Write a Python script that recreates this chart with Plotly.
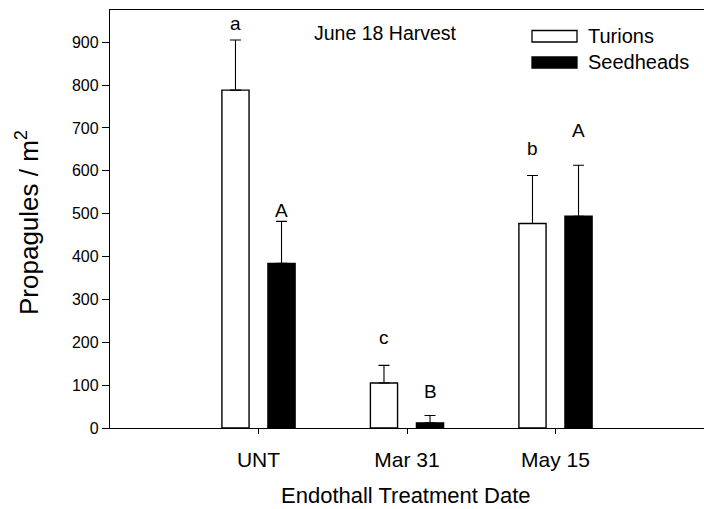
import plotly.graph_objects as go

categories = ["UNT", "Mar 31", "May 15"]
turions = [788, 105, 477]
turions_err = [117, 41, 112]
seedheads = [384, 12, 494]
seedheads_err = [98, 17, 119]
turion_letters = ["a", "c", "b"]
turion_letter_y = [943, 210, 652]
seed_letters = ["A", "B", "A"]
seed_letter_y = [508, 85, 694]
y_ticks = [0, 100, 200, 300, 400, 500, 600, 700, 800, 900]

FONT = "Liberation Sans, Arial, sans-serif"
W, H = 704, 509
L, R, T, B = 110, 0, 10, 81
PW, PH = W - L - R, H - T - B

def px(x):
    return (x - L) / PW

def py(y):
    return (H - B - y) / PH

fig = go.Figure()
fig.add_trace(go.Bar(
    x=categories, y=turions, name="Turions",
    marker=dict(color="white", line=dict(color="black", width=1.4)),
    error_y=dict(type="data", array=turions_err, arrayminus=[0] * 3, symmetric=False,
                 color="black", thickness=1.1, width=5.5),
))
fig.add_trace(go.Bar(
    x=categories, y=seedheads, name="Seedheads",
    marker=dict(color="black", line=dict(color="black", width=1.4)),
    error_y=dict(type="data", array=seedheads_err, arrayminus=[0] * 3, symmetric=False,
                 color="black", thickness=1.1, width=5.5),
))

off = 0.155
annotations = []
for i in range(len(categories)):
    annotations.append(dict(x=i - off, y=turion_letter_y[i], xref="x", yref="y",
                            text=turion_letters[i], showarrow=False,
                            font=dict(family=FONT, size=19, color="black"),
                            xanchor="center", yanchor="middle"))
    annotations.append(dict(x=i + off, y=seed_letter_y[i], xref="x", yref="y",
                            text=seed_letters[i], showarrow=False,
                            font=dict(family=FONT, size=19, color="black"),
                            xanchor="center", yanchor="middle"))

# title
annotations.append(dict(x=px(385), y=py(33), xref="paper", yref="paper",
                        text="June 18 Harvest", showarrow=False,
                        font=dict(family=FONT, size=19.5, color="black"),
                        xanchor="center", yanchor="middle"))
# legend texts
annotations.append(dict(x=px(586), y=py(36), xref="paper", yref="paper",
                        text="Turions", showarrow=False,
                        font=dict(family=FONT, size=20, color="black"),
                        xanchor="left", yanchor="middle"))
annotations.append(dict(x=px(586), y=py(62), xref="paper", yref="paper",
                        text="Seedheads", showarrow=False,
                        font=dict(family=FONT, size=20, color="black"),
                        xanchor="left", yanchor="middle"))
# axis titles
annotations.append(dict(x=px(27), y=py(223), xref="paper", yref="paper",
                        text="Propagules / m<sup>2</sup>", showarrow=False, textangle=-90,
                        font=dict(family=FONT, size=26, color="black"),
                        xanchor="center", yanchor="middle"))
annotations.append(dict(x=px(405), y=py(495.5), xref="paper", yref="paper",
                        text="Endothall Treatment Date", showarrow=False,
                        font=dict(family=FONT, size=22, color="black"),
                        xanchor="center", yanchor="middle"))

shapes = [
    dict(type="rect", xref="paper", yref="paper", x0=px(532), x1=px(577), y0=py(42), y1=py(30.5),
         fillcolor="white", line=dict(color="black", width=1.3)),
    dict(type="rect", xref="paper", yref="paper", x0=px(532), x1=px(577), y0=py(68), y1=py(57),
         fillcolor="black", line=dict(color="black", width=1.3)),
]

fig.update_layout(
    width=W, height=H,
    margin=dict(l=L, r=R, t=T, b=B, pad=0),
    paper_bgcolor="white", plot_bgcolor="white",
    barmode="group", bargap=0.38, bargroupgap=0.41,
    showlegend=False,
    font=dict(family=FONT, color="black"),
    annotations=annotations, shapes=shapes,
    xaxis=dict(range=[-1, 3], showline=True, linecolor="black", linewidth=1.4,
               mirror=True, ticks="outside", ticklen=5, tickwidth=1.1, tickcolor="black",
               ticklabelstandoff=8,
               tickfont=dict(family=FONT, size=21, color="black"),
               showgrid=False, zeroline=False, fixedrange=True),
    yaxis=dict(range=[0, 975], showline=True, linecolor="black", linewidth=1.4,
               tickvals=y_ticks, ticks="outside", ticklen=7, tickwidth=1.1, tickcolor="black",
               tickfont=dict(family=FONT, size=16, color="black"),
               showgrid=False, zeroline=False, fixedrange=True),
)

fig.write_html("out.html", config={"displayModeBar": False},
               post_script="document.body.style.margin='0';document.body.style.overflow='hidden';")
